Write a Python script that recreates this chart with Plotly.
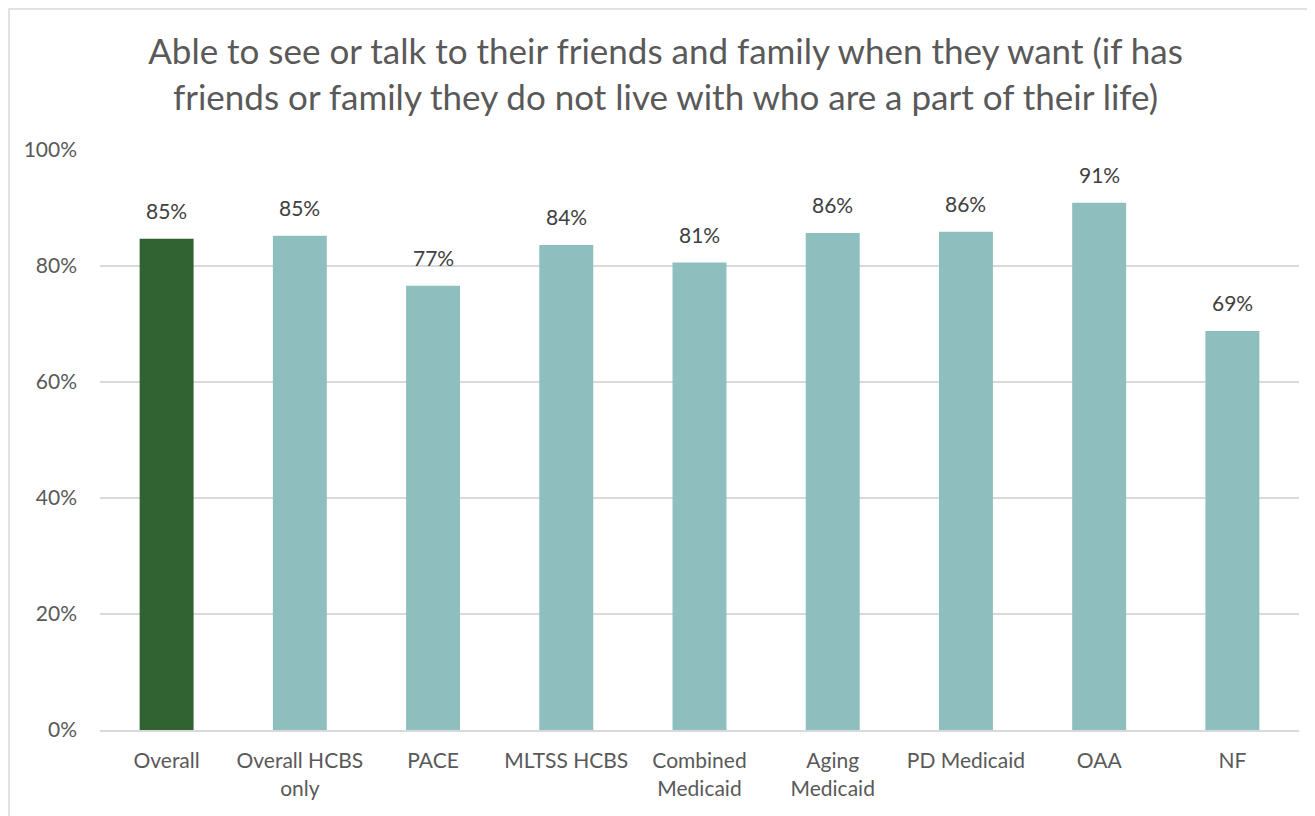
import plotly.graph_objects as go

categories = ["Overall", "Overall HCBS<br>only", "PACE", "MLTSS HCBS", "Combined<br>Medicaid",
              "Aging<br>Medicaid", "PD Medicaid", "OAA", "NF"]
values = [0.847, 0.852, 0.766, 0.836, 0.806, 0.857, 0.859, 0.909, 0.688]
colors = ["#306232"] + ["#8FBEBE"] * 8
title_text = ("Able to see or talk to their friends and family when they want (if has<br>"
              "friends or family they do not live with who are a part of their life)")

FONT = "Lato, Carlito, Calibri, sans-serif"

fig = go.Figure(go.Bar(
    x=categories, y=values, marker=dict(color=colors, line=dict(width=0)),
    hoverinfo="x+y",
))

annotations = [
    dict(x=c, y=v, xref="x", yref="y", text=f"{round(v*100):.0f}%", showarrow=False,
         yanchor="bottom", yshift=14, font=dict(size=21, color="#404040", family=FONT))
    for c, v in zip(categories, values)
]

L, T, W, H = 92, 142, 1199, 580

fig.update_layout(
    width=1315, height=816,
    margin=dict(l=L, r=1315 - L - W, t=T, b=816 - T - H),
    paper_bgcolor="white", plot_bgcolor="white",
    bargap=0.595,
    title=dict(text=title_text, x=0.5, xanchor="center", y=1 - 56 / 816, yanchor="middle",
               font=dict(size=35, color="#595959", family=FONT)),
    font=dict(family=FONT, size=21, color="#595959"),
    xaxis=dict(showline=True, linecolor="#D9D9D9", linewidth=2, ticks="",
               ticklabelstandoff=11,
               tickfont=dict(size=21, color="#595959")),
    yaxis=dict(range=[0, 1], tickformat=".0%", dtick=0.2, showgrid=True,
               gridcolor="#D9D9D9", gridwidth=1.5, zeroline=False, showline=False,
               ticks="", ticklabelstandoff=22,
               tickfont=dict(size=21, color="#595959")),
    showlegend=False,
    annotations=annotations,
    shapes=[dict(type="rect", xref="paper", yref="paper",
                 x0=(1 - L) / W, x1=(1315 - L + 20) / W,
                 y0=-(816 - T - H + 20) / H, y1=1 + (T - 1) / H,
                 line=dict(color="#D9D9D9", width=1.5))],
)

fig.write_html("out.html")
